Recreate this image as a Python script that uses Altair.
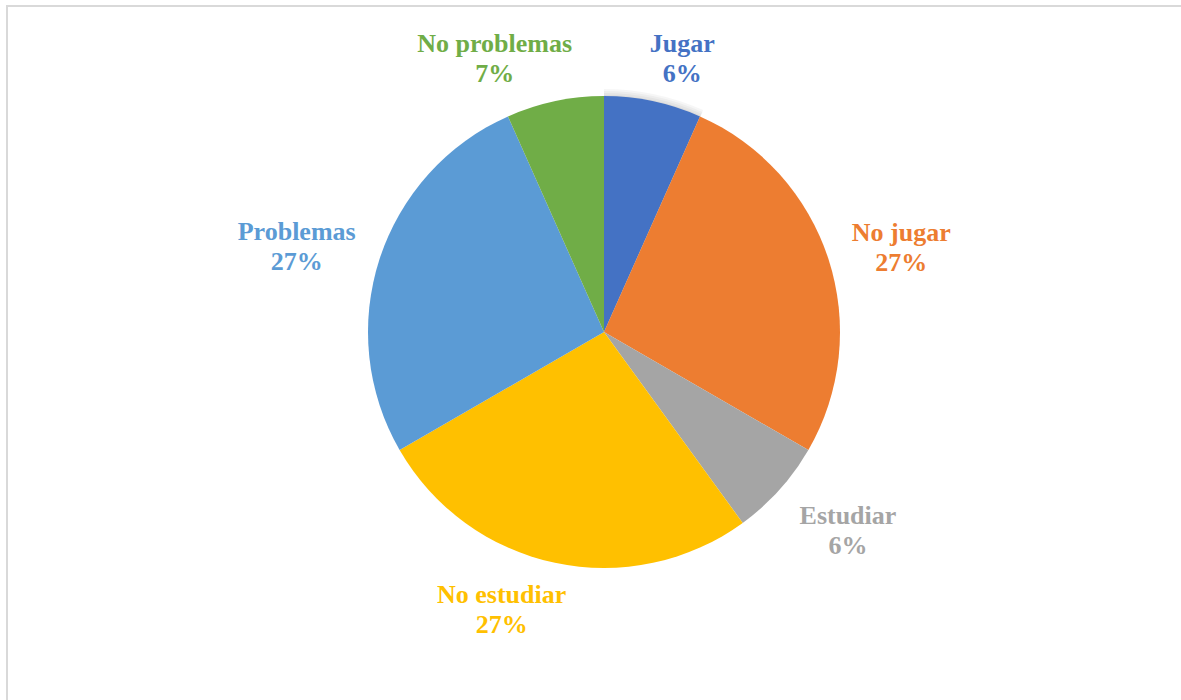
import altair as alt
import pandas as pd

categories = ["Jugar", "No jugar", "Estudiar", "No estudiar", "Problemas", "No problemas"]
values = [1, 4, 1, 4, 4, 1]
pct_labels = ["6%", "27%", "6%", "27%", "27%", "7%"]
colors = ["#4472C4", "#ED7D31", "#A5A5A5", "#FFC000", "#5B9BD5", "#70AD47"]

df = pd.DataFrame({
    "cat": categories,
    "val": values,
    "pct": pct_labels,
    "idx": list(range(len(categories))),
})
df["label"] = df["cat"] + "\n" + df["pct"]

CX, CY, R = 604, 332, 236

base = alt.Chart(df)

# frame
frame = base.mark_rect(fill=None, stroke="#d9d9d9", strokeWidth=2).encode(
    x=alt.value(7), y=alt.value(6), x2=alt.value(1200), y2=alt.value(720)
).transform_filter("datum.idx == 0")

# soft shadow
shadow_df = pd.DataFrame({"r": [243], "one": [1]})
shadows = []
for r in [244, 242, 240, 238]:
    shadows.append(
        alt.Chart(shadow_df).mark_arc(
            fill="#000000", fillOpacity=0.035, radius=r
        ).encode(theta=alt.Theta("one:Q"), x=alt.value(CX), y=alt.value(CY + 1))
    )

color_scale = alt.Scale(domain=categories, range=colors)

arcs = base.mark_arc(radius=R).encode(
    theta=alt.Theta("val:Q", stack=True),
    order=alt.Order("idx:Q"),
    color=alt.Color("cat:N", scale=color_scale, legend=None),
    x=alt.value(CX),
    y=alt.value(CY),
)

offsets = {
    "Jugar": (16, 5),
    "No jugar": (12, -6),
    "Estudiar": (21, -17),
    "No estudiar": (-40, -30),
    "Problemas": (-22, -7),
    "No problemas": (-47, 5),
}

texts = []
for c in categories:
    dx, dy = offsets[c]
    texts.append(
        base.mark_text(
            radius=300, font="Liberation Serif", fontWeight="bold", fontSize=26,
            lineBreak="\n", lineHeight=30, align="center", baseline="middle",
            dx=dx, dy=dy,
        ).encode(
            theta=alt.Theta("val:Q", stack=True),
            order=alt.Order("idx:Q"),
            text="label:N",
            color=alt.Color("cat:N", scale=color_scale, legend=None),
            x=alt.value(CX),
            y=alt.value(CY),
            opacity=alt.condition(f"datum.cat == '{c}'", alt.value(1), alt.value(0)),
        )
    )

chart = alt.layer(frame, *shadows, arcs, *texts).properties(
    width=1181, height=700, padding=0, autosize="none", background="white"
).configure_view(stroke=None)

chart.save("out.html", embed_options={"renderer": "svg", "actions": False})
